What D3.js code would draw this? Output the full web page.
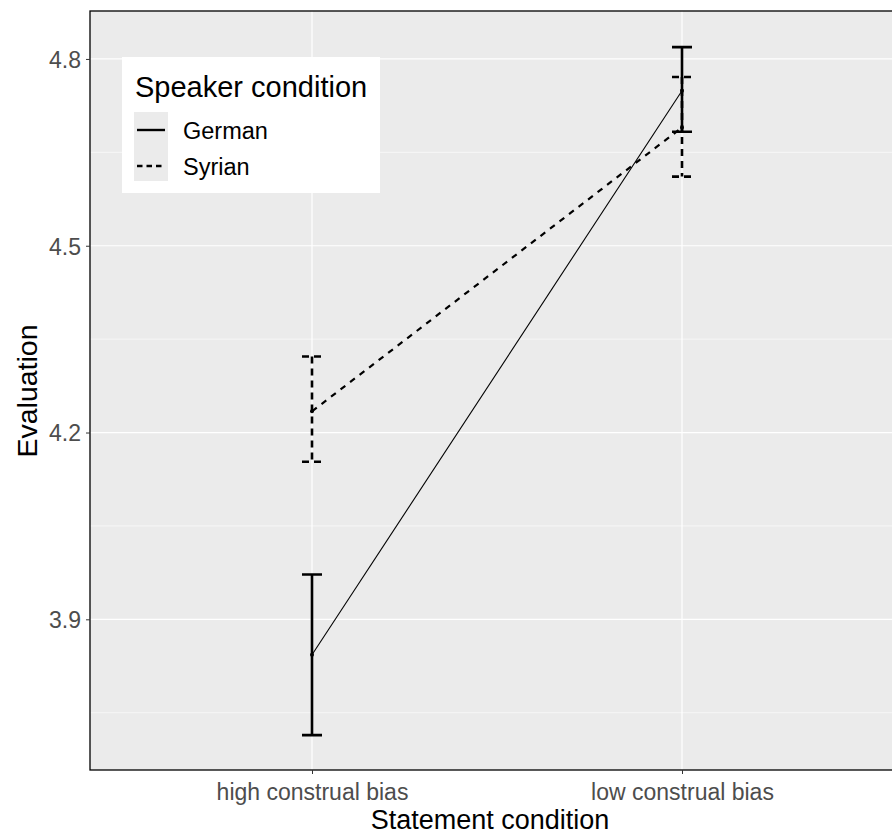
<!DOCTYPE html>
<html><head><meta charset="utf-8">
<script src="https://cdn.jsdelivr.net/npm/d3@7"></script>
<style>body{margin:0;background:#fff}svg{display:block}text{font-family:"Liberation Sans",Arial,sans-serif}</style>
</head><body>
<svg id="c" width="892" height="836"></svg>
<script>
const categories = ["high construal bias", "low construal bias"];
const speakers = ["German", "Syrian"];
const germanMean = [3.843, 4.749];
const germanLow = [3.714, 4.683];
const germanHigh = [3.972, 4.819];
const syrianMean = [4.234, 4.690];
const syrianLow = [4.153, 4.611];
const syrianHigh = [4.322, 4.771];
const yTicks = [3.9, 4.2, 4.5, 4.8];
const yMinor = [3.75, 4.05, 4.35, 4.65];

const svg = d3.select("#c");
const L = 90, R = 904, T = 11, B = 770;
const x = d3.scalePoint().domain(categories).range([L, R]).padding(0.6);
const y = d3.scaleLinear().domain([3.658, 4.877]).range([B, T]);

svg.append("rect").attr("x", L).attr("y", T).attr("width", R - L).attr("height", B - T).attr("fill", "#ebebeb");
const g = svg.append("g");
g.selectAll(".mn").data(yMinor).join("line").attr("x1", L).attr("x2", R)
  .attr("y1", d => y(d)).attr("y2", d => y(d)).attr("stroke", "#fff").attr("stroke-width", 0.6);
g.selectAll(".mj").data(yTicks).join("line").attr("x1", L).attr("x2", R)
  .attr("y1", d => y(d)).attr("y2", d => y(d)).attr("stroke", "#fff").attr("stroke-width", 1.2);
g.selectAll(".vx").data(categories).join("line").attr("y1", T).attr("y2", B)
  .attr("x1", d => x(d)).attr("x2", d => x(d)).attr("stroke", "#fff").attr("stroke-width", 1.2);

const series = [
  {name: "German", mean: germanMean, lo: germanLow, hi: germanHigh, dash: null, lw: 1.1},
  {name: "Syrian", mean: syrianMean, lo: syrianLow, hi: syrianHigh, dash: "6,6", lw: 2.2}
];
const line = d3.line().x((d, i) => x(categories[i])).y(d => y(d));
series.forEach(s => {
  const eb = svg.append("g");
  categories.forEach((c, i) => {
    const cx = x(c), w = 10;
    const p = `M${cx - w},${y(s.hi[i])}H${cx + w}M${cx},${y(s.hi[i])}V${y(s.lo[i])}M${cx - w},${y(s.lo[i])}H${cx + w}`;
    eb.append("path").attr("d", p).attr("fill", "none").attr("stroke", "#000")
      .attr("stroke-width", 2.6).attr("stroke-dasharray", s.dash ? "7,5" : null);
  });
  svg.append("path").attr("d", line(s.mean)).attr("fill", "none").attr("stroke", "#000")
    .attr("stroke-width", s.lw).attr("stroke-dasharray", s.dash);
  svg.selectAll(null).data(s.mean).join("circle").attr("cx", (d, i) => x(categories[i])).attr("cy", d => y(d))
    .attr("r", 2).attr("fill", "#000");
});

svg.append("rect").attr("x", L).attr("y", T).attr("width", R - L).attr("height", B - T)
  .attr("fill", "none").attr("stroke", "#000").attr("stroke-width", 1.3);

// axes
const ya = svg.append("g").attr("transform", `translate(${L},0)`)
  .call(d3.axisLeft(y).tickValues(yTicks).tickSize(4).tickPadding(5).tickFormat(d3.format(".1f")));
ya.select(".domain").remove();
ya.selectAll(".tick line").attr("stroke", "#333");
ya.selectAll(".tick text").attr("fill", "#4d4d4d").style("font-size", "23px").attr("dy", "0.36em");
const xa = svg.append("g").attr("transform", `translate(0,${B})`)
  .call(d3.axisBottom(x).tickSize(4).tickPadding(10));
xa.select(".domain").remove();
xa.selectAll(".tick line").attr("stroke", "#333");
xa.selectAll(".tick text").attr("fill", "#4d4d4d").style("font-size", "23px");

svg.append("text").attr("x", 490).attr("y", 829).attr("text-anchor", "middle")
  .style("font-size", "27px").attr("fill", "#000").text("Statement condition");
svg.append("text").attr("transform", `translate(37,391) rotate(-90)`).attr("text-anchor", "middle")
  .style("font-size", "28.5px").attr("fill", "#000").text("Evaluation");

// legend
const lg = svg.append("g");
lg.append("rect").attr("x", 122).attr("y", 57).attr("width", 258).attr("height", 136).attr("fill", "#fff");
lg.append("text").attr("x", 135).attr("y", 97).style("font-size", "29px").attr("fill", "#000").text("Speaker condition");
lg.append("rect").attr("x", 134).attr("y", 112).attr("width", 34).attr("height", 69).attr("fill", "#ebebeb");
const ly = [130, 166];
speakers.forEach((sp, i) => {
  lg.append("line").attr("x1", 137).attr("x2", 165).attr("y1", ly[i]).attr("y2", ly[i])
    .attr("stroke", "#000").attr("stroke-width", 2.4).attr("stroke-dasharray", i ? "5.5,4" : null);
  lg.append("text").attr("x", 183).attr("y", ly[i] + 8.5).style("font-size", "23.5px").attr("fill", "#000").text(sp);
});
</script>
</body></html>
